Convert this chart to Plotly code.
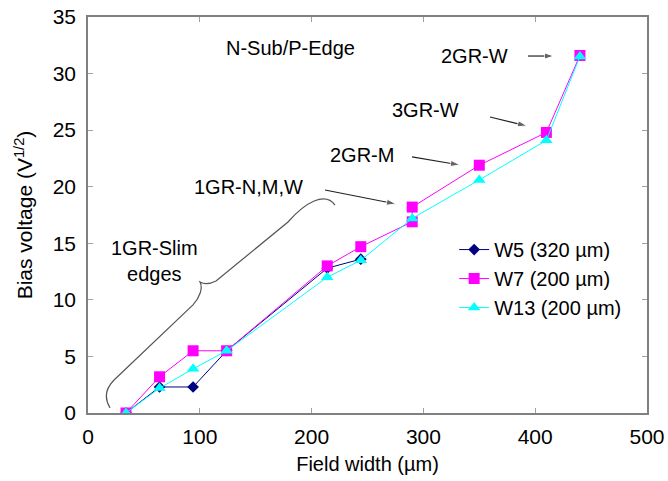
import plotly.graph_objects as go

# ---- data ----
w5_x = [34, 64, 94, 124, 214, 244]
w5_y = [0.0, 2.3, 2.3, 5.5, 12.8, 13.6]

w7_x = [34, 64, 94, 124, 214, 244, 290, 290, 350, 410, 440]
w7_y = [0.0, 3.2, 5.5, 5.5, 13.0, 14.7, 16.9, 18.2, 21.9, 24.8, 31.6]

w13_x = [34, 64, 94, 124, 214, 244, 290, 350, 410, 440]
w13_y = [0.0, 2.2, 3.9, 5.5, 12.0, 13.5, 17.2, 20.6, 24.1, 31.5]

series_names = ["W5 (320 µm)", "W7 (200 µm)", "W13 (200 µm)"]
x_ticks = [0, 100, 200, 300, 400, 500]
y_ticks = [0, 5, 10, 15, 20, 25, 30, 35]

FONT = "Liberation Sans, Arial, sans-serif"

fig = go.Figure()
fig.add_trace(go.Scatter(x=w5_x, y=w5_y, mode="lines+markers", name=series_names[0],
                         line=dict(color="#000080", width=1),
                         marker=dict(symbol="diamond", size=9, color="#000080")))
fig.add_trace(go.Scatter(x=w7_x, y=w7_y, mode="lines+markers", name=series_names[1],
                         line=dict(color="#FF00FF", width=1),
                         marker=dict(symbol="square", size=11, color="#FF00FF")))
fig.add_trace(go.Scatter(x=w13_x, y=w13_y, mode="lines+markers", name=series_names[2],
                         line=dict(color="#00FFFF", width=1),
                         marker=dict(symbol="triangle-up", size=11, color="#00FFFF")))

# curly brace
brace = ("M 19.7,0.44 C 14.3,1.33 16.1,2.21 23.3,2.92 L 93.9,9.55 "
         "C 100.2,10.25 102.9,11.05 100.2,11.58 "
         "C 104.7,11.31 109.1,11.4 114.5,11.67 L 178.9,16.88 "
         "C 194.1,18.6 212.0,19.6 220.9,18.38")
fig.add_shape(type="path", path=brace, xref="x", yref="y",
              line=dict(color="#555555", width=1.2))

ann_font = dict(family=FONT, size=20, color="black")
texts = [
    ("N-Sub/P-Edge", 180.7, 32.26),
    ("2GR-W", 345.7, 31.55),
    ("3GR-W", 301.9, 26.78),
    ("2GR-M", 245.1, 22.8),
    ("1GR-N,M,W", 144.0, 19.97),
    ("1GR-Slim<br>edges", 59.9, 13.43),
]
for t, x, y in texts:
    fig.add_annotation(text=t, x=x, y=y, xref="x", yref="y", showarrow=False,
                       font=ann_font, xanchor="center", yanchor="middle")

# pointer arrows (tail -> head), drawn as small line traces with an arrow marker at the head
arrows = [
    (393.6, 31.55, 416.8, 31.55),
    (359.6, 26.16, 392.7, 25.37),
    (289.8, 22.63, 332.7, 21.92),
    (212.0, 19.71, 275.5, 18.47),
]
for ax, ay, x, y in arrows:
    fig.add_trace(go.Scatter(x=[ax, x], y=[ay, y], mode="lines+markers",
                             line=dict(color="#222222", width=1.2),
                             marker=dict(symbol="arrow", size=[0, 10], color="#222222",
                                         angleref="previous", standoff=0),
                             showlegend=False, hoverinfo="skip"))

axis_common = dict(showgrid=False, zeroline=False, showline=True, linecolor="#808080",
                   linewidth=1.5, mirror="ticks", ticks="inside", ticklen=5,
                   tickcolor="#a0a0a0", tickwidth=1, automargin=False,
                   tickfont=dict(family=FONT, size=21, color="black"))

fig.update_layout(
    width=668, height=481,
    margin=dict(l=88, r=21, t=17, b=68),
    paper_bgcolor="white", plot_bgcolor="white",
    font=dict(family=FONT, color="black"),
    xaxis=dict(range=[0, 500], tickvals=x_ticks, ticklabelstandoff=4,
               title=dict(text="Field width (µm)", standoff=10,
                          font=dict(family=FONT, size=20, color="black")),
               **axis_common),
    yaxis=dict(range=[0, 35], tickvals=y_ticks, ticklabelstandoff=6,
               title=dict(text="Bias voltage (V<sup>1/2</sup>)", standoff=14,
                          font=dict(family=FONT, size=21, color="black")),
               **axis_common),
    legend=dict(x=0.655, y=0.462, xanchor="left", yanchor="top",
                bgcolor="rgba(0,0,0,0)", font=dict(family=FONT, size=20),
                tracegroupgap=0, itemwidth=30),
    showlegend=True,
)

fig.write_html("out.html")
